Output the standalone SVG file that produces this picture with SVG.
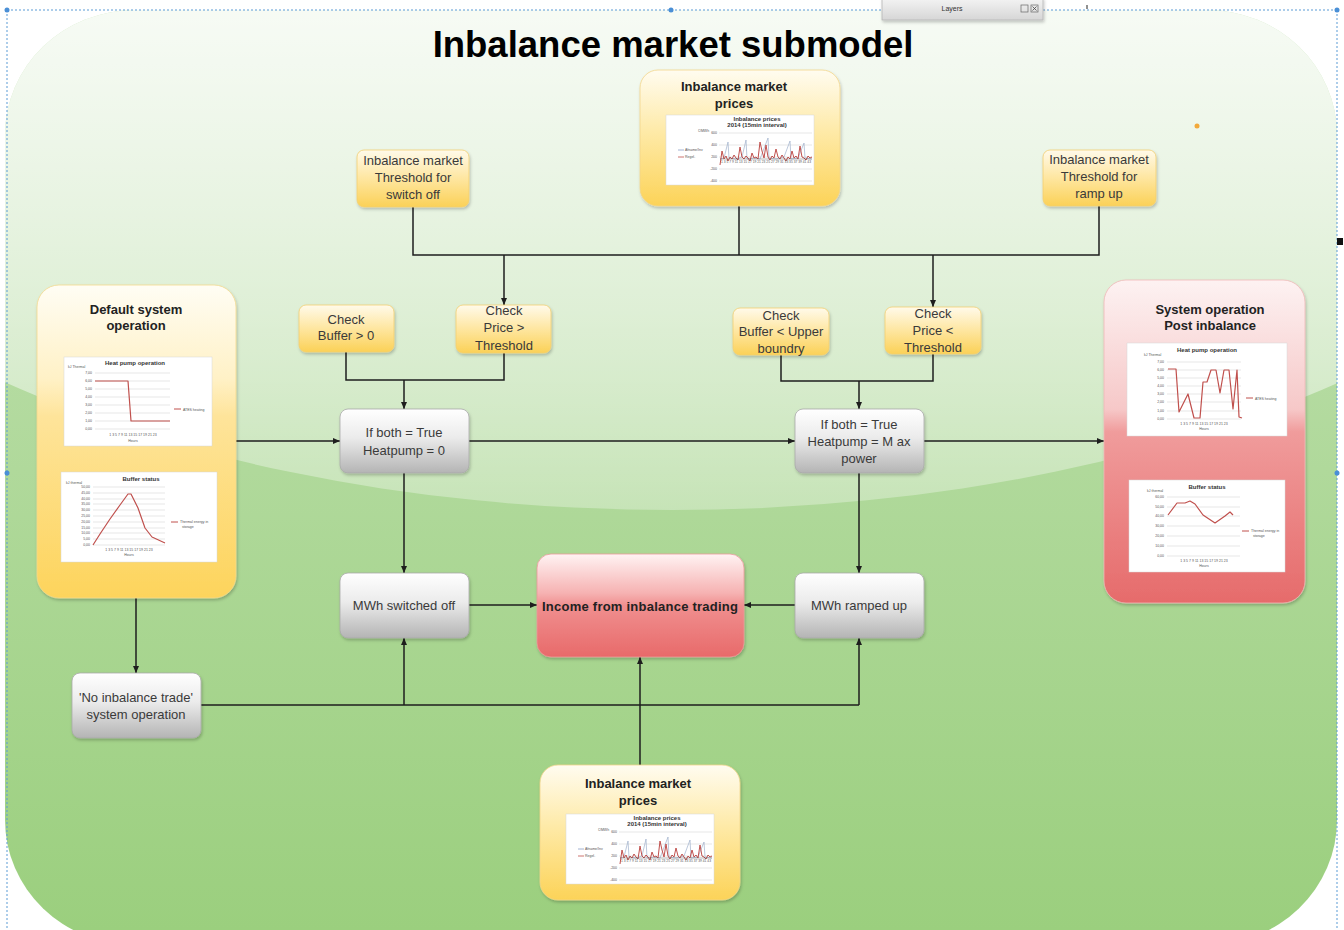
<svg xmlns="http://www.w3.org/2000/svg" xmlns:xlink="http://www.w3.org/1999/xlink" width="1344" height="930" viewBox="0 0 1344 930">
  <style>
    .t { font-family: "Liberation Sans", Arial, sans-serif; font-size: 13px; fill: #3a3a3a; text-anchor: middle; }
    .tb { font-family: "Liberation Sans", Arial, sans-serif; font-size: 13px; font-weight: bold; fill: #222; text-anchor: middle; }
    .title { font-family: "Liberation Sans", Arial, sans-serif; font-size: 36.5px; font-weight: bold; fill: #000; text-anchor: middle; }
    .ct { font-family: "Liberation Sans", Arial, sans-serif; font-size: 6px; font-weight: bold; fill: #333; text-anchor: middle; }
    .cs { font-family: "Liberation Sans", Arial, sans-serif; font-size: 3.5px; fill: #555; }
    .csr { font-family: "Liberation Sans", Arial, sans-serif; font-size: 3.5px; fill: #555; text-anchor: end; }
    .csm { font-family: "Liberation Sans", Arial, sans-serif; font-size: 3.5px; fill: #555; text-anchor: middle; }
    .conn { fill: none; stroke: #1e1e1e; stroke-width: 1.5; }
    .grid { stroke: #cfcfcf; stroke-width: 0.5; }
    .chart { fill: #fff; stroke: #d8d8d8; stroke-width: 0.5; }
    .series { fill: none; stroke: #c0504d; stroke-width: 1.2; stroke-linejoin: round; }
    .ynode { fill: url(#gYellow); stroke: #f2cf72; stroke-width: 0.8; filter: url(#shadow); }
    .gnode { fill: url(#gGray); stroke: #a9a9a9; stroke-width: 0.8; filter: url(#shadow); }
  </style>
  <defs>
    <filter id="shadow" x="-10%" y="-10%" width="130%" height="140%">
      <feDropShadow dx="1" dy="2" stdDeviation="1.6" flood-color="#000" flood-opacity="0.22"/>
    </filter>
    <linearGradient id="gBg" x1="0" y1="10" x2="0" y2="930" gradientUnits="userSpaceOnUse">
      <stop offset="0" stop-color="#c4e2b5"/>
      <stop offset="0.5" stop-color="#b0d99b"/>
      <stop offset="1" stop-color="#9bcf7e"/>
    </linearGradient>
    <linearGradient id="gGloss" x1="0" y1="10" x2="0" y2="510" gradientUnits="userSpaceOnUse">
      <stop offset="0" stop-color="#fff" stop-opacity="0.86"/>
      <stop offset="0.6" stop-color="#fff" stop-opacity="0.55"/>
      <stop offset="1" stop-color="#fff" stop-opacity="0.3"/>
    </linearGradient>
    <clipPath id="bgClip">
      <rect x="5" y="10" width="1332" height="935" rx="130" ry="125"/>
    </clipPath>
    <linearGradient id="gYellow" x1="0" y1="0" x2="0" y2="1">
      <stop offset="0" stop-color="#fffaea"/>
      <stop offset="0.5" stop-color="#fee6a0"/>
      <stop offset="1" stop-color="#fbd157"/>
    </linearGradient>
    <linearGradient id="gYellowBig" x1="0" y1="0" x2="0" y2="1">
      <stop offset="0" stop-color="#fffdf4"/>
      <stop offset="0.3" stop-color="#fff1c6"/>
      <stop offset="0.42" stop-color="#fee49a"/>
      <stop offset="1" stop-color="#fdd45c"/>
    </linearGradient>
    <linearGradient id="gYellowPrice" x1="0" y1="0" x2="0" y2="1">
      <stop offset="0" stop-color="#fffcf0"/>
      <stop offset="0.45" stop-color="#feeaa8"/>
      <stop offset="1" stop-color="#fcd358"/>
    </linearGradient>
    <linearGradient id="gGray" x1="0" y1="0" x2="0" y2="1">
      <stop offset="0" stop-color="#ffffff"/>
      <stop offset="0.45" stop-color="#ebebeb"/>
      <stop offset="1" stop-color="#b4b4b4"/>
    </linearGradient>
    <linearGradient id="gRed" x1="0" y1="0" x2="0" y2="1">
      <stop offset="0" stop-color="#fff3f3"/>
      <stop offset="0.38" stop-color="#f6b2b2"/>
      <stop offset="0.5" stop-color="#f08f8f"/>
      <stop offset="1" stop-color="#e86a6a"/>
    </linearGradient>
    <linearGradient id="gRedBig" x1="0" y1="0" x2="0" y2="1">
      <stop offset="0" stop-color="#fdf2f2"/>
      <stop offset="0.4" stop-color="#f6c8c8"/>
      <stop offset="0.47" stop-color="#f09c9c"/>
      <stop offset="1" stop-color="#e66b6b"/>
    </linearGradient>
    <linearGradient id="gLayers" x1="0" y1="0" x2="0" y2="1">
      <stop offset="0" stop-color="#f4f4f4"/>
      <stop offset="1" stop-color="#d6d6d6"/>
    </linearGradient>
    <marker id="arrow" markerWidth="7" markerHeight="6" refX="7" refY="3" orient="auto" markerUnits="userSpaceOnUse">
      <path d="M0,0 L7,3 L0,6 z" fill="#1e1e1e"/>
    </marker>

    <!-- imbalance price chart, reused twice -->
    <g id="price-chart">
      <rect class="chart" x="0" y="0" width="148" height="70" stroke="#777" stroke-width="0.8"/>
      <text class="ct" x="91" y="6" font-size="4.5">Inbalance prices</text>
      <text class="ct" x="91" y="12" font-size="4.5">2014 (15min interval)</text>
      <text class="cs" x="32" y="17" font-size="3">€/MWh</text>
      <line class="grid" x1="53" y1="18" x2="146" y2="18"/>
      <line class="grid" x1="53" y1="30" x2="146" y2="30"/>
      <line class="grid" x1="53" y1="42" x2="146" y2="42"/>
      <line class="grid" x1="53" y1="54" x2="146" y2="54"/>
      <line class="grid" x1="53" y1="66" x2="146" y2="66"/>
      <text class="csr" x="51" y="19" font-size="2.8">600</text>
      <text class="csr" x="51" y="31" font-size="2.8">400</text>
      <text class="csr" x="51" y="43" font-size="2.8">200</text>
      <text class="csr" x="51" y="55" font-size="2.8">-200</text>
      <text class="csr" x="51" y="67" font-size="2.8">-400</text>
      <line x1="12" y1="35" x2="18" y2="35" stroke="#8aa0c8" stroke-width="0.8"/>
      <text class="cs" x="19" y="36" font-size="2.8">Afname/Inv</text>
      <line x1="12" y1="42" x2="18" y2="42" stroke="#c0504d" stroke-width="0.8"/>
      <text class="cs" x="19" y="43" font-size="2.8">Regel.</text>
      <polyline fill="none" stroke="#9fb0cc" stroke-width="0.7" points="54,44 58,43 62,27 63,43 70,44 76,42 80,25 81,44 88,43 94,44 102,23 103,43 110,44 118,42 124,26 125,44 132,43 138,28 139,43 146,44"/>
      <polyline fill="none" stroke="#c0504d" stroke-width="1" points="54,50 56,36 58,44 60,41 62,46 64,42 66,44 68,40 70,43 72,45 74,32 76,42 78,44 80,41 82,43 84,46 86,38 88,43 90,42 92,44 94,27 96,36 98,43 100,30 102,42 104,45 106,41 108,43 110,34 112,42 114,44 116,40 118,43 120,46 122,42 124,44 126,36 128,43 130,41 132,44 134,31 136,42 138,43 140,45 142,41 144,43 146,42"/>
      <line x1="54" y1="44" x2="146" y2="44" stroke="#444" stroke-width="0.4"/>
      <text class="cs" x="55" y="48" font-size="2.2" fill="#888" textLength="90" lengthAdjust="spacingAndGlyphs">1 3 5 7 9 11 13 15 17 19 21 23 25 27 29 31 33 35 37 39 41 43</text>
    </g>
  </defs>

  <!-- page background and window chrome -->
  <rect x="0" y="0" width="1344" height="930" fill="#ffffff"/>
  <g clip-path="url(#bgClip)">
    <rect x="5" y="10" width="1332" height="935" fill="url(#gBg)"/>
    <ellipse cx="672" cy="9" rx="1000" ry="501" fill="url(#gGloss)"/>
  </g>
  <g id="selection" fill="none" stroke="#5b9bd5" stroke-width="1" stroke-dasharray="2,2">
    <line x1="7" y1="10" x2="1337" y2="10"/>
    <line x1="7" y1="10" x2="7" y2="930"/>
    <line x1="1337" y1="10" x2="1337" y2="930"/>
  </g>
  <g id="handles" fill="#4a8fd6">
    <circle cx="7" cy="10" r="2.5"/>
    <circle cx="671" cy="10" r="2.5"/>
    <circle cx="1337" cy="10" r="2.5"/>
    <circle cx="7" cy="473" r="2.5"/>
    <circle cx="1337" cy="473" r="2.5"/>
  </g>
  <rect x="1337" y="238" width="6" height="7" fill="#111"/>
  <circle cx="1197" cy="126" r="2.5" fill="#f2a93b"/>
  <g id="layers-panel">
    <rect x="882" y="-2" width="161" height="22" fill="url(#gLayers)" stroke="#b5b5b5" stroke-width="0.8" filter="url(#shadow)"/>
    <text x="952" y="11" font-family="Liberation Sans, Arial, sans-serif" font-size="7" fill="#333" text-anchor="middle">Layers</text>
    <rect x="1021" y="5" width="7" height="7" fill="none" stroke="#666" stroke-width="0.7"/>
    <rect x="1031" y="5" width="7" height="7" fill="none" stroke="#666" stroke-width="0.7"/>
    <path d="M1032.5,6.5 L1036.5,10.5 M1036.5,6.5 L1032.5,10.5" stroke="#444" stroke-width="0.8"/>
    <line x1="1087" y1="5" x2="1087" y2="9" stroke="#222" stroke-width="1"/>
  </g>

  <text class="title" x="673" y="57">Inbalance market submodel</text>

  <!-- connectors -->
  <g id="connectors">
    <polyline class="conn" points="413,207 413,255 1099,255 1099,206"/>
    <line class="conn" x1="739" y1="206" x2="739" y2="255"/>
    <line class="conn" x1="504" y1="255" x2="504" y2="305" marker-end="url(#arrow)"/>
    <line class="conn" x1="933" y1="255" x2="933" y2="307" marker-end="url(#arrow)"/>
    <polyline class="conn" points="346,352 346,380 504,380 504,353"/>
    <line class="conn" x1="404" y1="380" x2="404" y2="409" marker-end="url(#arrow)"/>
    <polyline class="conn" points="781,355 781,381 933,381 933,354"/>
    <line class="conn" x1="859" y1="381" x2="859" y2="409" marker-end="url(#arrow)"/>
    <line class="conn" x1="236" y1="441" x2="340" y2="441" marker-end="url(#arrow)"/>
    <line class="conn" x1="469" y1="441" x2="795" y2="441" marker-end="url(#arrow)"/>
    <line class="conn" x1="924" y1="441" x2="1104" y2="441" marker-end="url(#arrow)"/>
    <line class="conn" x1="404" y1="473" x2="404" y2="573" marker-end="url(#arrow)"/>
    <line class="conn" x1="859" y1="473" x2="859" y2="573" marker-end="url(#arrow)"/>
    <line class="conn" x1="469" y1="605" x2="537" y2="605" marker-end="url(#arrow)"/>
    <line class="conn" x1="795" y1="605" x2="744" y2="605" marker-end="url(#arrow)"/>
    <line class="conn" x1="136" y1="598" x2="136" y2="673" marker-end="url(#arrow)"/>
    <line class="conn" x1="201" y1="705" x2="859" y2="705"/>
    <line class="conn" x1="404" y1="705" x2="404" y2="638" marker-end="url(#arrow)"/>
    <line class="conn" x1="859" y1="705" x2="859" y2="638" marker-end="url(#arrow)"/>
    <line class="conn" x1="640" y1="765" x2="640" y2="657" marker-end="url(#arrow)"/>
  </g>

  <!-- top price source -->
  <g id="prices-top">
    <rect x="640" y="70" width="200" height="136" rx="18" fill="url(#gYellowPrice)" stroke="#f3d58a" stroke-width="0.8" filter="url(#shadow)"/>
    <text class="tb" x="734" y="91">Inbalance market</text>
    <text class="tb" x="734" y="108">prices</text>
    <use xlink:href="#price-chart" href="#price-chart" transform="translate(666,115)"/>
  </g>

  <g id="threshold-off">
    <rect class="ynode" x="357" y="150" width="112" height="57" rx="7"/>
    <text class="t" x="413" y="165">Inbalance market</text>
    <text class="t" x="413" y="182">Threshold for</text>
    <text class="t" x="413" y="199">switch off</text>
  </g>

  <g id="threshold-up">
    <rect class="ynode" x="1043" y="150" width="113" height="56" rx="7"/>
    <text class="t" x="1099" y="164">Inbalance market</text>
    <text class="t" x="1099" y="181">Threshold for</text>
    <text class="t" x="1099" y="198">ramp up</text>
  </g>

  <g id="check-buffer-low">
    <rect class="ynode" x="299" y="305" width="95" height="47" rx="7"/>
    <text class="t" x="346" y="324">Check</text>
    <text class="t" x="346" y="340">Buffer &gt; 0</text>
  </g>

  <g id="check-price-high">
    <rect class="ynode" x="456" y="305" width="95" height="48" rx="7"/>
    <text class="t" x="504" y="315">Check</text>
    <text class="t" x="504" y="332">Price &gt;</text>
    <text class="t" x="504" y="350">Threshold</text>
  </g>

  <g id="check-buffer-high">
    <rect class="ynode" x="733" y="308" width="96" height="47" rx="7"/>
    <text class="t" x="781" y="320">Check</text>
    <text class="t" x="781" y="336">Buffer &lt; Upper</text>
    <text class="t" x="781" y="353">boundry</text>
  </g>

  <g id="check-price-low">
    <rect class="ynode" x="885" y="307" width="96" height="47" rx="7"/>
    <text class="t" x="933" y="318">Check</text>
    <text class="t" x="933" y="335">Price &lt;</text>
    <text class="t" x="933" y="352">Threshold</text>
  </g>

  <!-- default operation with its two charts -->
  <g id="default-operation">
    <rect x="37" y="285" width="199" height="313" rx="22" fill="url(#gYellowBig)" stroke="#f4d98e" stroke-width="0.8" filter="url(#shadow)"/>
    <text class="tb" x="136" y="314">Default system</text>
    <text class="tb" x="136" y="330">operation</text>

    <rect class="chart" x="64" y="357" width="148" height="89"/>
    <text class="ct" x="135" y="365">Heat pump operation</text>
    <text class="cs" x="68" y="368">kJ Thermal</text>
    <g class="grid">
      <line x1="95" y1="373" x2="170" y2="373"/><line x1="95" y1="381" x2="170" y2="381"/>
      <line x1="95" y1="389" x2="170" y2="389"/><line x1="95" y1="397" x2="170" y2="397"/>
      <line x1="95" y1="405" x2="170" y2="405"/><line x1="95" y1="413" x2="170" y2="413"/>
      <line x1="95" y1="421" x2="170" y2="421"/><line x1="95" y1="429" x2="170" y2="429"/>
    </g>
    <text class="csr" x="92" y="374">7,00</text><text class="csr" x="92" y="382">6,00</text>
    <text class="csr" x="92" y="390">5,00</text><text class="csr" x="92" y="398">4,00</text>
    <text class="csr" x="92" y="406">3,00</text><text class="csr" x="92" y="414">2,00</text>
    <text class="csr" x="92" y="422">1,00</text><text class="csr" x="92" y="430">0,00</text>
    <polyline class="series" points="95,381 128,381 131,421 170,421"/>
    <text class="csm" x="133" y="436">1  3  5  7  9  11 13 15 17 19 21 23</text>
    <text class="csm" x="133" y="442">Hours</text>
    <line x1="174" y1="409" x2="181" y2="409" stroke="#c0504d" stroke-width="1"/>
    <text class="cs" x="183" y="410.5">ATES heating</text>

    <rect class="chart" x="61" y="472" width="156" height="90"/>
    <text class="ct" x="141" y="481">Buffer status</text>
    <text class="cs" x="66" y="484">kJ thermal</text>
    <g class="grid">
      <line x1="93" y1="487" x2="165" y2="487"/><line x1="93" y1="493" x2="165" y2="493"/>
      <line x1="93" y1="499" x2="165" y2="499"/><line x1="93" y1="504" x2="165" y2="504"/>
      <line x1="93" y1="510" x2="165" y2="510"/><line x1="93" y1="516" x2="165" y2="516"/>
      <line x1="93" y1="522" x2="165" y2="522"/><line x1="93" y1="528" x2="165" y2="528"/>
      <line x1="93" y1="533" x2="165" y2="533"/><line x1="93" y1="539" x2="165" y2="539"/>
      <line x1="93" y1="545" x2="165" y2="545"/>
    </g>
    <text class="csr" x="90" y="488">50,00</text><text class="csr" x="90" y="494">45,00</text>
    <text class="csr" x="90" y="500">40,00</text><text class="csr" x="90" y="505">35,00</text>
    <text class="csr" x="90" y="511">30,00</text><text class="csr" x="90" y="517">25,00</text>
    <text class="csr" x="90" y="523">20,00</text><text class="csr" x="90" y="529">15,00</text>
    <text class="csr" x="90" y="534">10,00</text><text class="csr" x="90" y="540">5,00</text>
    <text class="csr" x="90" y="546">0,00</text>
    <polyline class="series" points="93,545 100,534 110,519 120,505 128,494 131,494 138,508 145,528 152,537 165,543"/>
    <text class="csm" x="129" y="551">1  3  5  7  9 11 13 15 17 19 21 23</text>
    <text class="csm" x="129" y="556">Hours</text>
    <line x1="171" y1="522" x2="178" y2="522" stroke="#c0504d" stroke-width="1"/>
    <text class="cs" x="180" y="523">Thermal energy in</text>
    <text class="cs" x="182" y="527.5">storage</text>
  </g>

  <!-- operation after imbalance trading -->
  <g id="post-inbalance">
    <rect x="1104" y="280" width="201" height="323" rx="22" fill="url(#gRedBig)" stroke="#f0b8b8" stroke-width="0.8" filter="url(#shadow)"/>
    <text class="tb" x="1210" y="314">System operation</text>
    <text class="tb" x="1210" y="330">Post inbalance</text>

    <rect class="chart" x="1127" y="343" width="160" height="93"/>
    <text class="ct" x="1207" y="352">Heat pump operation</text>
    <text class="cs" x="1144" y="356">kJ Thermal</text>
    <g class="grid">
      <line x1="1167" y1="362" x2="1241" y2="362"/><line x1="1167" y1="370" x2="1241" y2="370"/>
      <line x1="1167" y1="378" x2="1241" y2="378"/><line x1="1167" y1="386" x2="1241" y2="386"/>
      <line x1="1167" y1="394" x2="1241" y2="394"/><line x1="1167" y1="402" x2="1241" y2="402"/>
      <line x1="1167" y1="411" x2="1241" y2="411"/><line x1="1167" y1="419" x2="1241" y2="419"/>
    </g>
    <text class="csr" x="1164" y="363">7,00</text><text class="csr" x="1164" y="371">6,00</text>
    <text class="csr" x="1164" y="379">5,00</text><text class="csr" x="1164" y="387">4,00</text>
    <text class="csr" x="1164" y="395">3,00</text><text class="csr" x="1164" y="403">2,00</text>
    <text class="csr" x="1164" y="412">1,00</text><text class="csr" x="1164" y="420">0,00</text>
    <polyline class="series" points="1168,369 1176,369 1179,412 1188,394 1194,418 1200,418 1203,382 1207,382 1211,370 1216,370 1220,393 1224,370 1229,370 1233,409 1237,370 1239,417 1242,418"/>
    <text class="csm" x="1204" y="425">1  3  5  7  9 11 13 15 17 19 21 23</text>
    <text class="csm" x="1204" y="430">Hours</text>
    <line x1="1246" y1="398" x2="1253" y2="398" stroke="#c0504d" stroke-width="1"/>
    <text class="cs" x="1255" y="399.5">ATES heating</text>

    <rect class="chart" x="1129" y="480" width="156" height="92"/>
    <text class="ct" x="1207" y="489">Buffer status</text>
    <text class="cs" x="1147" y="492">kJ thermal</text>
    <g class="grid">
      <line x1="1167" y1="497" x2="1240" y2="497"/><line x1="1167" y1="507" x2="1240" y2="507"/>
      <line x1="1167" y1="516" x2="1240" y2="516"/><line x1="1167" y1="526" x2="1240" y2="526"/>
      <line x1="1167" y1="536" x2="1240" y2="536"/><line x1="1167" y1="546" x2="1240" y2="546"/>
      <line x1="1167" y1="556" x2="1240" y2="556"/>
    </g>
    <text class="csr" x="1164" y="498">60,00</text><text class="csr" x="1164" y="508">50,00</text>
    <text class="csr" x="1164" y="517">40,00</text><text class="csr" x="1164" y="527">30,00</text>
    <text class="csr" x="1164" y="537">20,00</text><text class="csr" x="1164" y="547">10,00</text>
    <text class="csr" x="1164" y="557">0,00</text>
    <polyline class="series" points="1168,515 1177,503 1185,503 1190,501 1195,504 1203,515 1215,523 1225,516 1230,512 1233,515"/>
    <text class="csm" x="1204" y="562">1  3  5  7  9 11 13 15 17 19 21 23</text>
    <text class="csm" x="1204" y="567">Hours</text>
    <line x1="1242" y1="531" x2="1249" y2="531" stroke="#c0504d" stroke-width="1"/>
    <text class="cs" x="1251" y="532">Thermal energy in</text>
    <text class="cs" x="1253" y="536.5">storage</text>
  </g>

  <g id="switch-off-rule">
    <rect class="gnode" x="340" y="409" width="129" height="64" rx="8"/>
    <text class="t" x="404" y="437">If both = True</text>
    <text class="t" x="404" y="455">Heatpump = 0</text>
  </g>

  <g id="ramp-up-rule">
    <rect class="gnode" x="795" y="409" width="129" height="64" rx="8"/>
    <text class="t" x="859" y="429">If both = True</text>
    <text class="t" x="859" y="446">Heatpump = M ax</text>
    <text class="t" x="859" y="463">power</text>
  </g>

  <g id="mwh-switched-off">
    <rect class="gnode" x="340" y="573" width="129" height="65" rx="8"/>
    <text class="t" x="404" y="610">MWh switched off</text>
  </g>

  <g id="income">
    <rect x="537" y="554" width="207" height="103" rx="14" fill="url(#gRed)" stroke="#ea9a9a" stroke-width="0.8" filter="url(#shadow)"/>
    <text class="tb" x="640" y="611" textLength="196" lengthAdjust="spacing">Income from inbalance trading</text>
  </g>

  <g id="mwh-ramped-up">
    <rect class="gnode" x="795" y="573" width="129" height="65" rx="8"/>
    <text class="t" x="859" y="610">MWh ramped up</text>
  </g>

  <g id="no-trade">
    <rect class="gnode" x="72" y="673" width="129" height="65" rx="8"/>
    <text class="t" x="136" y="702">'No inbalance trade'</text>
    <text class="t" x="136" y="719">system operation</text>
  </g>

  <!-- bottom price source -->
  <g id="prices-bottom">
    <rect x="540" y="765" width="200" height="135" rx="18" fill="url(#gYellowPrice)" stroke="#f3d58a" stroke-width="0.8" filter="url(#shadow)"/>
    <text class="tb" x="638" y="788">Inbalance market</text>
    <text class="tb" x="638" y="805">prices</text>
    <use xlink:href="#price-chart" href="#price-chart" transform="translate(566,814)"/>
  </g>
</svg>
